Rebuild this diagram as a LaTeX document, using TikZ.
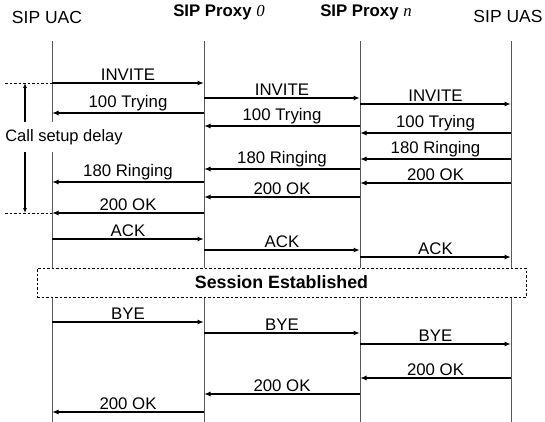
\documentclass[tikz,border=0pt]{standalone}
\usepackage{fontspec}
\setmainfont{Liberation Sans}
\newfontfamily\timesit{Liberation Serif}
\usetikzlibrary{arrows.meta,calc}

\begin{document}
\begin{tikzpicture}[x=1pt,y=-1pt,
		lifeline/.style={draw=black!65,line width=0.8pt},
		sipmsg/.style={-{Latex[length=6.5pt,width=5pt]},line width=1.6pt},
		siplabel/.style={midway,above,inner sep=1.5pt,font=\fontsize{16.8}{18}\selectfont},
		header/.style={font=\fontsize{17.5}{19}\selectfont},
		boldheader/.style={font=\fontsize{16.8}{19}\selectfont\bfseries},
		delayline/.style={dashed,dash pattern=on 2.5pt off 2pt,line width=0.8pt}
		]
	\useasboundingbox (0,0) rectangle (545,422);

	% lifeline positions
	\coordinate (UAC) at (52,0);
	\coordinate (P0) at (204,0);
	\coordinate (Pn) at (360,0);
	\coordinate (UAS) at (511,0);

	\node[header](UACname) at (47,17){SIP UAC};
	\node[boldheader](P0name) at (219,12){SIP Proxy {\timesit\mdseries\itshape 0}};
	\node[boldheader](Pnname) at (366,12){SIP Proxy {\timesit\mdseries\itshape n}};
	\node[header](UASname) at (508,16){SIP UAS};

	\foreach \l in {UAC,P0,Pn,UAS}
		\draw[lifeline] ($(\l)+(0,41)$) -- ($(\l)+(0,422)$);

	% call setup
	\draw[sipmsg] ($(UAC)+(0,83)$) -- ($(P0)+(0,83)$) node[siplabel]{INVITE};
	\draw[sipmsg] ($(P0)+(0,98)$) -- ($(Pn)+(0,98)$) node[siplabel]{INVITE};
	\draw[sipmsg] ($(Pn)+(0,104)$) -- ($(UAS)+(0,104)$) node[siplabel]{INVITE};
	\draw[sipmsg] ($(P0)+(0,113)$) -- ($(UAC)+(0,113)$) node[siplabel]{100 Trying};
	\draw[sipmsg] ($(Pn)+(0,126)$) -- ($(P0)+(0,126)$) node[siplabel]{100 Trying};
	\draw[sipmsg] ($(UAS)+(0,133)$) -- ($(Pn)+(0,133)$) node[siplabel]{100 Trying};
	\draw[sipmsg] ($(UAS)+(0,159)$) -- ($(Pn)+(0,159)$) node[siplabel]{180 Ringing};
	\draw[sipmsg] ($(Pn)+(0,169)$) -- ($(P0)+(0,169)$) node[siplabel]{180 Ringing};
	\draw[sipmsg] ($(P0)+(0,182)$) -- ($(UAC)+(0,182)$) node[siplabel]{180 Ringing};
	\draw[sipmsg] ($(UAS)+(0,183)$) -- ($(Pn)+(0,183)$) node[siplabel]{200 OK};
	\draw[sipmsg] ($(Pn)+(0,197)$) -- ($(P0)+(0,197)$) node[siplabel]{200 OK};
	\draw[sipmsg] ($(P0)+(0,213)$) -- ($(UAC)+(0,213)$) node[siplabel]{200 OK};
	\draw[sipmsg] ($(UAC)+(0,239)$) -- ($(P0)+(0,239)$) node[siplabel]{ACK};
	\draw[sipmsg] ($(P0)+(0,250)$) -- ($(Pn)+(0,250)$) node[siplabel]{ACK};
	\draw[sipmsg] ($(Pn)+(0,257)$) -- ($(UAS)+(0,257)$) node[siplabel]{ACK};

	% delay marker
	\coordinate (delaystart) at (5,83);
	\coordinate (delayend) at (5,213);
	\draw[delayline] (delaystart) -- ($(UAC)+(0,83)$);
	\draw[delayline] (delayend) -- ($(UAC)+(0,213)$);
	\draw[{Latex[length=5pt,width=4pt]}-{Latex[length=5pt,width=4pt]},line width=1.1pt]
		($(delaystart)+(20,0)$) -- ($(delayend)+(20,0)$);
	\node[header,font=\fontsize{16.5}{18}\selectfont,fill=white,inner xsep=1pt,inner ysep=7pt](delay) at (64,137){Call setup delay};

	% session
	\node[draw,delayline,fill=white,minimum width=489pt,minimum height=29pt,
		font=\fontsize{17.8}{19}\selectfont\bfseries](session) at (281.5,282.5){Session Established};

	% teardown
	\draw[sipmsg] ($(UAC)+(0,322)$) -- ($(P0)+(0,322)$) node[siplabel]{BYE};
	\draw[sipmsg] ($(P0)+(0,333)$) -- ($(Pn)+(0,333)$) node[siplabel]{BYE};
	\draw[sipmsg] ($(Pn)+(0,344)$) -- ($(UAS)+(0,344)$) node[siplabel]{BYE};
	\draw[sipmsg] ($(UAS)+(0,378)$) -- ($(Pn)+(0,378)$) node[siplabel]{200 OK};
	\draw[sipmsg] ($(Pn)+(0,394)$) -- ($(P0)+(0,394)$) node[siplabel]{200 OK};
	\draw[sipmsg] ($(P0)+(0,412)$) -- ($(UAC)+(0,412)$) node[siplabel]{200 OK};
\end{tikzpicture}
\end{document}
